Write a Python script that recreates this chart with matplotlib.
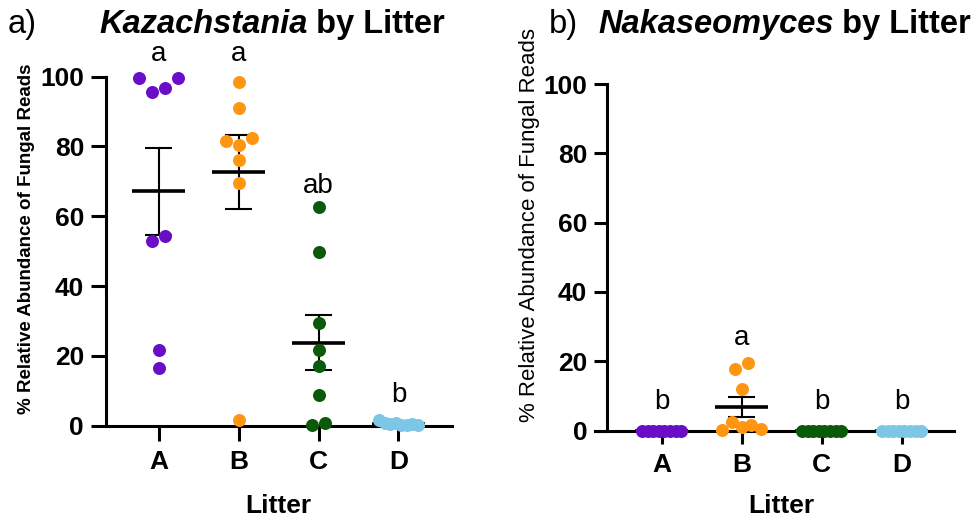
import numpy as np
import matplotlib
matplotlib.use("Agg")
import matplotlib.pyplot as plt
from matplotlib.text import Annotation
from matplotlib.transforms import blended_transform_factory

plt.rcParams["font.family"] = ["Liberation Sans", "DejaVu Sans"]

# ---- data -------------------------------------------------------------
litters = ["A", "B", "C", "D"]
colors = ["#6A0DC6", "#FF9612", "#0B5A0B", "#7DC6E6"]

kaz_A = [99.6, 95.6, 96.7, 99.6, 52.9, 54.4, 21.7, 16.5]
kaz_B = [98.4, 91.0, 81.7, 80.3, 82.3, 76.0, 69.6, 1.7]
kaz_C = [62.7, 49.8, 29.3, 21.8, 17.2, 8.9, 0.1, 0.9]
kaz_D = [1.6, 0.9, 0.5, 0.8, 0.3, 0.2, 0.4, 0.1]

nak_A = [0, 0, 0, 0, 0, 0, 0, 0]
nak_B = [0.2, 2.5, 1.0, 1.5, 0.3, 17.8, 19.5, 12.0]
nak_C = [0, 0, 0, 0, 0, 0, 0, 0]
nak_D = [0, 0, 0, 0, 0, 0, 0, 0]

kaz_letters = ["a", "a", "ab", "b"]
nak_letters = ["b", "a", "b", "b"]

# ---- helpers ----------------------------------------------------------
DPI = 100
W, H = 979, 521
MARKER_PX = 13.0


def fx(px):
    return px / W


def fy(px):
    return 1 - px / H


def row_offsets(values, px_per_unit, px_per_cat, max_half_px=19.5):
    """Horizontal offsets (category units) for a Prism-style scatter column."""
    vals = np.asarray(values, float)
    order = sorted(range(len(vals)), key=lambda i: -vals[i])
    rows, cur, anchor = [], [], None
    for i in order:
        if anchor is None or (anchor - vals[i]) * px_per_unit < 14.5:
            if anchor is None:
                anchor = vals[i]
            cur.append(i)
        else:
            rows.append(cur)
            cur, anchor = [i], vals[i]
    if cur:
        rows.append(cur)
    offs = np.zeros(len(vals))
    for r in rows:
        r = sorted(r)
        n = len(r)
        if n == 1:
            continue
        half = min((n - 1) * MARKER_PX / 2.0, max_half_px)
        xs = np.linspace(-half, half, n)
        for k, i in enumerate(r):
            offs[i] = xs[k] / px_per_cat
    return offs


def draw_panel(ax, groups, letters, px_per_unit, px_per_cat, letter_y):
    for i, (vals, col) in enumerate(zip(groups, colors)):
        vals = np.asarray(vals, float)
        offs = row_offsets(vals, px_per_unit, px_per_cat)
        ax.plot(i + offs, vals, "o", ms=MARKER_PX * 72 / DPI, color=col,
                mec="none", clip_on=False, zorder=5)
        m = vals.mean()
        sem = vals.std(ddof=1) / np.sqrt(len(vals))
        mean_half = 26.5 / px_per_cat
        cap_half = 13.5 / px_per_cat
        ax.plot([i - mean_half, i + mean_half], [m, m], color="black",
                lw=2.6, solid_capstyle="butt", zorder=4, clip_on=False)
        if sem > 0:
            ax.plot([i, i], [m - sem, m + sem], color="black", lw=1.5,
                    zorder=3, clip_on=False)
            for yy in (m - sem, m + sem):
                ax.plot([i - cap_half, i + cap_half], [yy, yy],
                        color="black", lw=1.5, solid_capstyle="butt",
                        zorder=3, clip_on=False)
        ax.text(i, letter_y[i], letters[i], ha="center", va="baseline",
                fontsize=20, clip_on=False, zorder=6)


def style_axes(ax, tick_len):
    ax.set_ylim(0, 100)
    ax.set_yticks([0, 20, 40, 60, 80, 100])
    ax.set_xticks(range(4))
    ax.set_xticklabels(litters)
    for s in ("top", "right"):
        ax.spines[s].set_visible(False)
    for s in ("left", "bottom"):
        ax.spines[s].set_linewidth(2.2)
        ax.spines[s].set_capstyle("projecting")
    ax.tick_params(axis="both", width=2.2, length=tick_len, labelsize=19)
    ax.tick_params(axis="y", pad=5)
    ax.tick_params(axis="x", pad=7)
    for lab in ax.get_xticklabels() + ax.get_yticklabels():
        lab.set_fontweight("bold")


# ---- figure -----------------------------------------------------------
fig = plt.figure(figsize=(W / DPI, H / DPI), dpi=DPI)

# panel a
axa = fig.add_axes([fx(106), fy(425.7), 346 / W, 349 / H])
axa.set_xlim(-0.66, 3.67)
style_axes(axa, 10.8)
draw_panel(axa, [kaz_A, kaz_B, kaz_C, kaz_D], kaz_letters,
           349 / 100, 80, [104.6, 104.6, 66.8, 6.9])

# panel b
axb = fig.add_axes([fx(595), fy(430.5), 359 / W, 346.5 / H])
axb.set_xlim(-0.834, 3.654)
axb.spines["left"].set_position(("data", -0.68))
axb.spines["left"].set_bounds(0, 100)
style_axes(axb, 9.5)
draw_panel(axb, [nak_A, nak_B, nak_C, nak_D], nak_letters,
           346.5 / 100, 80, [6.3, 24.6, 6.3, 6.3])

# x axis titles, centred under the category range
for ax in (axa, axb):
    tr = blended_transform_factory(ax.transData, fig.transFigure)
    ax.text(1.5, fy(513), "Litter", transform=tr, ha="center",
            va="baseline", fontsize=19, fontweight="bold")

# y axis titles
fig.text(fx(27), fy(239), "% Relative Abundance of Fungal Reads",
         rotation=90, ha="center", va="center", fontsize=13.5,
         fontweight="bold")
fig.text(fx(529), fy(225), "% Relative Abundance of Fungal Reads",
         rotation=90, ha="center", va="center", fontsize=16)

# panel titles: italic genus name followed by plain bold text
TITLE_PT = 23.5
fig.text(fx(8), fy(33), "a)", ha="left", va="baseline", fontsize=TITLE_PT)
fig.text(fx(549), fy(33), "b)", ha="left", va="baseline", fontsize=TITLE_PT)

for x_px, genus in ((99, "Kazachstania"), (598, "Nakaseomyces")):
    t1 = fig.text(fx(x_px), fy(33), genus, ha="left", va="baseline",
                  fontsize=TITLE_PT, fontweight="bold", fontstyle="italic")
    fig.add_artist(Annotation(
        " by Litter", xy=(1, 0), xycoords=t1, xytext=(0, 0),
        textcoords="offset points", ha="left", va="bottom",
        fontsize=TITLE_PT, fontweight="bold"))

fig.savefig("out.png", dpi=DPI)
